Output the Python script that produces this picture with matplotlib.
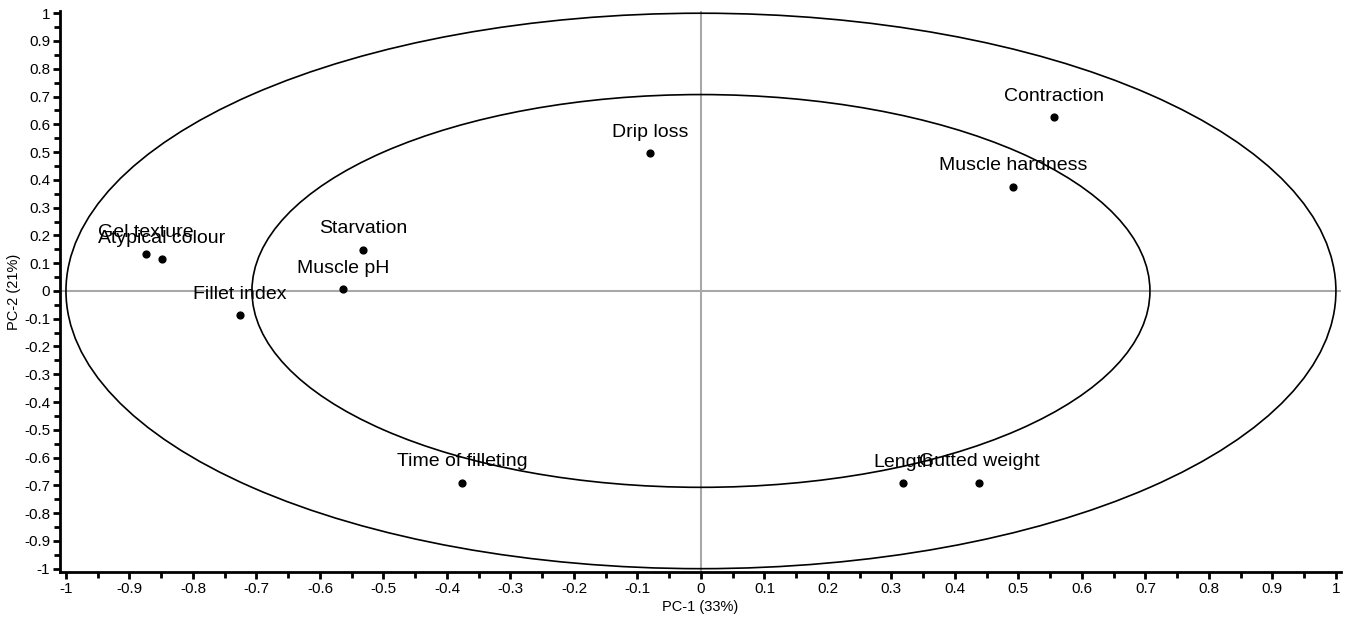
import matplotlib
matplotlib.use("Agg")
import matplotlib.pyplot as plt
from matplotlib.patches import Ellipse
from matplotlib.ticker import MultipleLocator, FuncFormatter
import numpy as np

plt.rcParams['font.family'] = ['Liberation Sans', 'DejaVu Sans']

labels = ["Contraction", "Muscle hardness", "Drip loss", "Starvation", "Muscle pH",
          "Gel texture", "Atypical colour", "Fillet index", "Time of filleting",
          "Length", "Gutted weight"]
pc1 = [0.556, 0.491, -0.080, -0.532, -0.564, -0.874, -0.849, -0.726, -0.376, 0.318, 0.438]
pc2 = [0.625, 0.375, 0.495, 0.148, 0.007, 0.134, 0.115, -0.087, -0.690, -0.693, -0.690]
radii = [1.0, np.sqrt(0.5)]
x_label = "PC-1 (33%)"
y_label = "PC-2 (21%)"

fig = plt.figure(figsize=(13.56, 6.23), dpi=100)
ax = fig.add_axes([60/1356, 51/623, (1341-60)/1356, (612-51)/623])
ax.set_xlim(-1.0094, 1.008)
ax.set_ylim(-1.012, 1.008)

ax.axhline(0, color='#a8a8a8', lw=1.5, zorder=1)
ax.axvline(0, color='#a8a8a8', lw=1.5, zorder=1)
for r in radii:
    ax.add_patch(Ellipse((0, 0), 2*r, 2*r, fill=False, ec='black', lw=1.2, zorder=2))

ax.scatter(pc1, pc2, s=24, color='black', zorder=3)
for lab, x, y in zip(labels, pc1, pc2):
    ax.annotate(lab, (x, y), xytext=(0, 9), textcoords='offset points',
                ha='center', va='bottom', fontsize=14, color='black', zorder=4)

for s in ['top', 'right']:
    ax.spines[s].set_visible(False)
for s in ['left', 'bottom']:
    ax.spines[s].set_linewidth(2)

ax.xaxis.set_major_locator(MultipleLocator(0.1))
ax.xaxis.set_minor_locator(MultipleLocator(0.05))
ax.yaxis.set_major_locator(MultipleLocator(0.1))
ax.yaxis.set_minor_locator(MultipleLocator(0.05))
fmt = FuncFormatter(lambda v, p: ('%g' % round(v, 2)) if abs(v) > 1e-9 else '0')
ax.xaxis.set_major_formatter(fmt)
ax.yaxis.set_major_formatter(fmt)
ax.tick_params(which='major', length=5, width=2, labelsize=11, pad=2)
ax.tick_params(which='minor', length=4, width=2)

ax.set_xlabel(x_label, fontsize=10.5, labelpad=3)
ax.set_ylabel(y_label, fontsize=10.5, labelpad=2)

fig.savefig("out.png", dpi=100)
